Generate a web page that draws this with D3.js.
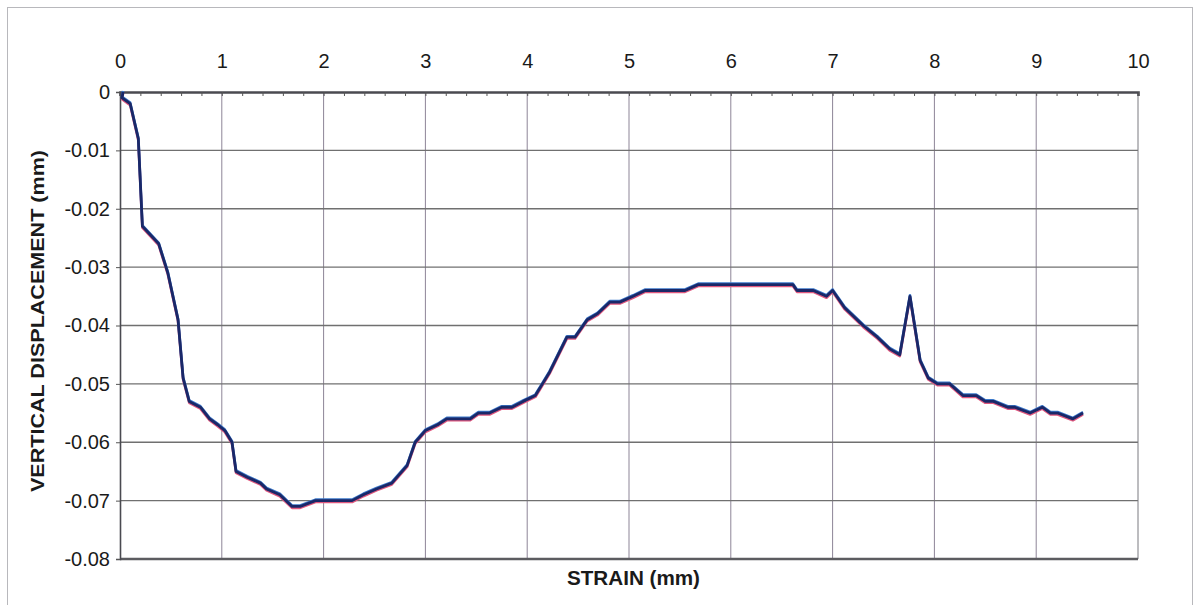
<!DOCTYPE html>
<html>
<head>
<meta charset="utf-8">
<script src="https://cdn.jsdelivr.net/npm/d3@7"></script>
<style>
  html, body { margin: 0; padding: 0; background: #ffffff; }
  svg { display: block; }
  text { font-family: "Liberation Sans", Arial, sans-serif; fill: #1a1a1a; }
</style>
</head>
<body>
<svg id="chart" width="1200" height="605"></svg>
<script>
// Strain readings (mm) and the matching vertical displacement (mm)
const strain = [0.03, 0.02, 0.10, 0.18, 0.22, 0.38, 0.47, 0.57, 0.62, 0.68,
  0.79, 0.88, 0.96, 1.03, 1.10, 1.14, 1.25, 1.38, 1.44, 1.57,
  1.69, 1.77, 1.92, 2.28, 2.39, 2.52, 2.67, 2.82, 2.90, 3.00,
  3.12, 3.21, 3.44, 3.52, 3.63, 3.75, 3.85, 3.96, 4.08, 4.15,
  4.22, 4.39, 4.47, 4.59, 4.69, 4.81, 4.91, 5.04, 5.16, 5.55,
  5.68, 6.61, 6.65, 6.81, 6.94, 7.00, 7.12, 7.30, 7.44, 7.56,
  7.66, 7.76, 7.86, 7.94, 8.03, 8.15, 8.28, 8.41, 8.50, 8.58,
  8.72, 8.79, 8.94, 9.06, 9.14, 9.21, 9.36, 9.46];
const displacement = [0, -0.001, -0.002, -0.008, -0.023, -0.026, -0.031, -0.039, -0.049, -0.053,
  -0.054, -0.056, -0.057, -0.058, -0.060, -0.065, -0.066, -0.067, -0.068, -0.069,
  -0.071, -0.071, -0.070, -0.070, -0.069, -0.068, -0.067, -0.064, -0.060, -0.058,
  -0.057, -0.056, -0.056, -0.055, -0.055, -0.054, -0.054, -0.053, -0.052, -0.050,
  -0.048, -0.042, -0.042, -0.039, -0.038, -0.036, -0.036, -0.035, -0.034, -0.034,
  -0.033, -0.033, -0.034, -0.034, -0.035, -0.034, -0.037, -0.040, -0.042, -0.044,
  -0.045, -0.035, -0.046, -0.049, -0.050, -0.050, -0.052, -0.052, -0.053, -0.053,
  -0.054, -0.054, -0.055, -0.054, -0.055, -0.055, -0.056, -0.055];

// Axis ticks
const xTicks = [0, 1, 2, 3, 4, 5, 6, 7, 8, 9, 10];
const xMinorTicks = d3.range(0, 10.001, 0.2);
const yTicks = [0, -0.01, -0.02, -0.03, -0.04, -0.05, -0.06, -0.07, -0.08];

const xTitle = "STRAIN (mm)";
const yTitle = "VERTICAL DISPLACEMENT (mm)";

const svg = d3.select("#chart");
const W = 1200, H = 605;
const plot = { left: 120, right: 1138, top: 92, bottom: 559 };

const x = d3.scaleLinear().domain([0, 10]).range([plot.left, plot.right]);
const y = d3.scaleLinear().domain([0, -0.08]).range([plot.top, plot.bottom]);

// Outer frame of the chart area
svg.append("rect")
  .attr("x", 7.5).attr("y", 7.5)
  .attr("width", W - 15).attr("height", H)
  .attr("fill", "#ffffff")
  .attr("stroke", "#b8b8bc").attr("stroke-width", 1);

// Plot background
svg.append("rect")
  .attr("x", plot.left).attr("y", plot.top)
  .attr("width", plot.right - plot.left).attr("height", plot.bottom - plot.top)
  .attr("fill", "#ffffff");

// Vertical grid lines
svg.append("g")
  .selectAll("line")
  .data(xTicks.filter(d => d > 0 && d < 10))
  .join("line")
  .attr("x1", d => x(d)).attr("x2", d => x(d))
  .attr("y1", plot.top).attr("y2", plot.bottom)
  .attr("stroke", "#8d8597").attr("stroke-width", 1);

// Horizontal grid lines
svg.append("g")
  .selectAll("line")
  .data(yTicks.filter(d => d < 0 && d > -0.08))
  .join("line")
  .attr("x1", plot.left).attr("x2", plot.right)
  .attr("y1", d => y(d)).attr("y2", d => y(d))
  .attr("stroke", "#707070").attr("stroke-width", 1.3);

// Plot border
svg.append("line")
  .attr("x1", plot.right).attr("x2", plot.right)
  .attr("y1", plot.top).attr("y2", plot.bottom)
  .attr("stroke", "#7a7a80").attr("stroke-width", 1);
svg.append("line")
  .attr("x1", plot.left).attr("x2", plot.right)
  .attr("y1", plot.bottom).attr("y2", plot.bottom)
  .attr("stroke", "#5c5c60").attr("stroke-width", 2.6);

// Top axis: labels above, minor ticks pointing into the plot
const topLabels = svg.append("g")
  .attr("transform", `translate(0,${plot.top - 24})`)
  .call(d3.axisTop(x).tickValues(xTicks).tickSize(0).tickPadding(0).tickFormat(d3.format("d")));
topLabels.select(".domain").remove();
topLabels.selectAll("text")
  .attr("font-size", 20)
  .attr("font-family", "Liberation Sans, Arial, sans-serif")
  .attr("fill", "#1a1a1a");

const topTicks = svg.append("g")
  .attr("transform", `translate(0,${plot.top})`)
  .call(d3.axisBottom(x).tickValues(xMinorTicks).tickSize(4).tickFormat(""));
topTicks.select(".domain")
  .attr("stroke", "#4a4a50").attr("stroke-width", 2.6);
topTicks.selectAll(".tick line").attr("stroke", "#555");

// Left axis
const leftAxis = svg.append("g")
  .attr("transform", `translate(${plot.left},0)`)
  .call(d3.axisLeft(y).tickValues(yTicks).tickSize(4).tickPadding(6)
    .tickFormat(d => d === 0 ? "0" : d3.format(".2f")(d).replace("−", "-")));
leftAxis.select(".domain").attr("stroke", "#4a4a50").attr("stroke-width", 1.6);
leftAxis.selectAll(".tick line").attr("stroke", "#555");
leftAxis.selectAll("text")
  .attr("font-size", 20)
  .attr("font-family", "Liberation Sans, Arial, sans-serif")
  .attr("fill", "#1a1a1a");

// Axis titles
svg.append("text")
  .attr("x", 567)
  .attr("y", 585)
  .attr("font-size", 20)
  .attr("font-weight", "bold")
  .attr("textLength", 133)
  .attr("lengthAdjust", "spacingAndGlyphs")
  .text(xTitle);

svg.append("text")
  .attr("transform", `translate(44,492) rotate(-90)`)
  .attr("font-size", 19)
  .attr("font-weight", "bold")
  .attr("textLength", 342)
  .attr("lengthAdjust", "spacingAndGlyphs")
  .text(yTitle);

// Displacement curve
const pts = strain.map((s, i) => [s, displacement[i]]);
const line = d3.line().x(d => x(d[0])).y(d => y(d[1]));

svg.append("path")
  .datum(pts)
  .attr("d", line)
  .attr("transform", "translate(0,1.4)")
  .attr("fill", "none")
  .attr("stroke", "#e0587e").attr("stroke-width", 2.6)
  .attr("stroke-linejoin", "round");
svg.append("path")
  .datum(pts)
  .attr("d", line)
  .attr("transform", "translate(0,-1)")
  .attr("fill", "none")
  .attr("stroke", "#3b78c9").attr("stroke-width", 2.6)
  .attr("stroke-linejoin", "round");
svg.append("path")
  .datum(pts)
  .attr("d", line)
  .attr("fill", "none")
  .attr("stroke", "#1a2868").attr("stroke-width", 2.8)
  .attr("stroke-linejoin", "round");
</script>
</body>
</html>
